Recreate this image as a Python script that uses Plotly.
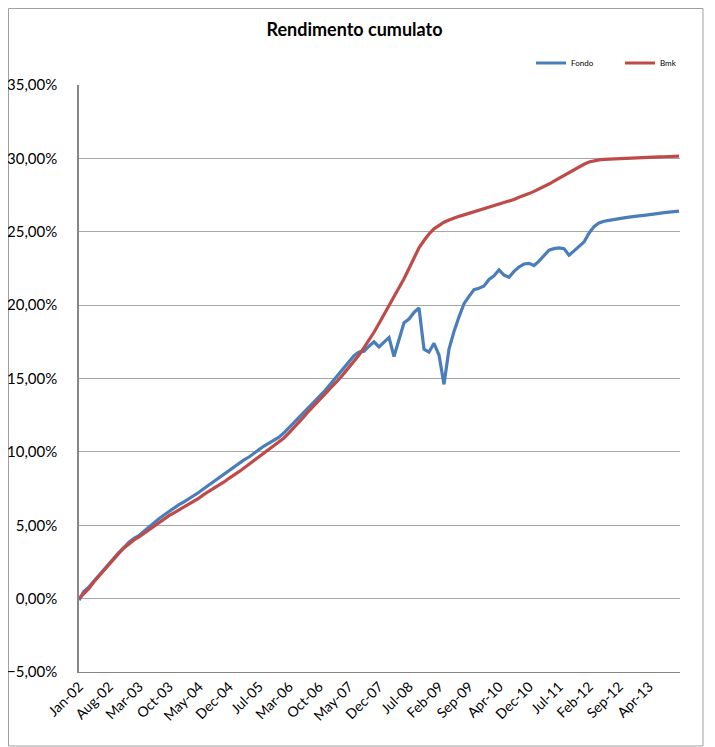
import plotly.graph_objects as go

# Tick labels of the category axis (one every 6 samples)
tick_labels = ["Jan-02", "Aug-02", "Mar-03", "Oct-03", "May-04", "Dec-04", "Jul-05",
               "Mar-06", "Oct-06", "May-07", "Dec-07", "Jul-08", "Feb-09", "Sep-09",
               "Apr-10", "Dec-10", "Jul-11", "Feb-12", "Sep-12", "Apr-13"]
samples_per_label = 6

# Cumulative return (%), Fondo
fondo = [-0.1, 0.5, 0.8, 1.2, 1.6, 2.0, 2.35, 2.75, 3.15, 3.5,
         3.85, 4.1, 4.3, 4.6, 4.9, 5.2, 5.45, 5.7, 5.95, 6.15,
         6.4, 6.6, 6.8, 7.0, 7.25, 7.5, 7.75, 7.95, 8.25, 8.5,
         8.75, 9.0, 9.2, 9.45, 9.65, 9.9, 10.2, 10.4, 10.6, 10.8,
         11.0, 11.3, 11.65, 11.95, 12.35, 12.7, 13.05, 13.4, 13.75, 14.1,
         14.5, 14.9, 15.3, 15.7, 16.1, 16.55, 16.8, 16.85, 17.2, 17.5,
         17.15, 17.5, 17.8, 16.5, 17.7, 18.8, 19.05, 19.5, 19.8, 17.0,
         16.8, 17.4, 16.6, 14.6, 17.0, 18.2, 19.2, 20.1, 20.6, 21.05,
         21.15, 21.3, 21.75, 22.0, 22.4, 22.05, 21.9, 22.3, 22.6, 22.8,
         22.85, 22.7, 23.0, 23.35, 23.75, 23.85, 23.9, 23.85, 23.4, 23.7,
         24.0, 24.3, 24.9, 25.35, 25.6, 25.72, 25.78, 25.85, 25.9, 25.95,
         26.0, 26.02, 26.08, 26.12, 26.18, 26.22, 26.25, 26.3, 26.33, 26.36,
         26.4]

# Cumulative return (%), Bmk
bmk = [0.0, 0.35, 0.7, 1.15, 1.55, 1.95, 2.35, 2.75, 3.1, 3.45,
       3.75, 4.0, 4.2, 4.45, 4.7, 4.95, 5.2, 5.45, 5.65, 5.85,
       6.05, 6.25, 6.45, 6.6, 6.85, 7.1, 7.3, 7.5, 7.75, 7.95,
       8.2, 8.4, 8.65, 8.9, 9.15, 9.4, 9.65, 9.9, 10.15, 10.4,
       10.65, 10.95, 11.3, 11.65, 12.0, 12.4, 12.8, 13.15, 13.5, 13.9,
       14.25, 14.6, 14.95, 15.35, 15.75, 16.15, 16.6, 17.1, 17.6, 18.15,
       18.75, 19.35, 19.95, 20.55, 21.15, 21.8, 22.5, 23.2, 23.9, 24.4,
       24.85, 25.2, 25.45, 25.65, 25.8, 25.95, 26.05, 26.15, 26.25, 26.35,
       26.45, 26.55, 26.65, 26.75, 26.85, 26.95, 27.05, 27.2, 27.35, 27.45,
       27.6, 27.75, 27.9, 28.05, 28.25, 28.45, 28.65, 28.85, 29.05, 29.25,
       29.45, 29.6, 29.75, 29.85, 29.9, 29.93, 29.95, 29.97, 29.98, 30.0,
       30.0, 30.02, 30.03, 30.05, 30.06, 30.08, 30.1, 30.11, 30.12, 30.13,
       30.15]

x = list(range(len(fondo)))
tickvals = [i * samples_per_label for i in range(len(tick_labels))]

FONT = "Lato"
W, H = 715, 747
L, R, T, B = 71, 43, 77, 83
PW, PH = W - L - R, H - T - B

fig = go.Figure()
fig.add_trace(go.Scatter(x=x, y=[v / 100 for v in fondo], mode="lines", name="Fondo",
                         line=dict(color="#4A7EBB", width=3.2)))
fig.add_trace(go.Scatter(x=x, y=[v / 100 for v in bmk], mode="lines", name="Bmk",
                         line=dict(color="#BE4B48", width=3.2)))

fig.update_layout(
    width=W, height=H,
    margin=dict(l=L, r=R, t=T, b=B),
    paper_bgcolor="white", plot_bgcolor="white",
    separators=",.",
    font=dict(family=FONT, color="black"),
    title=dict(text="<b>Rendimento cumulato</b>", x=346.5 / W, xanchor="center",
               y=1 - 22 / H, yanchor="middle", font=dict(size=18, family=FONT)),
    showlegend=True,
    legend=dict(orientation="h", x=(531 - 79) / PW, xanchor="left", y=1 + 22 / PH,
                yanchor="middle", font=dict(size=8, family=FONT), itemwidth=30,
                entrywidth=44, bgcolor="rgba(0,0,0,0)"),
    xaxis=dict(range=[0, 120.2], tickmode="array", tickvals=tickvals, ticktext=tick_labels,
               tickangle=-45, tickfont=dict(size=14, family=FONT), showgrid=False,
               showline=True, linecolor="#868686", linewidth=1, ticks="", zeroline=False,
               automargin=False),
    yaxis=dict(range=[-0.05, 0.35], dtick=0.05, tick0=0, tickformat=".2%",
               tickfont=dict(size=15, family=FONT), showgrid=True, gridcolor="#A6A6A6",
               gridwidth=1, showline=True, linecolor="#868686", linewidth=1.5,
               zeroline=False, ticks="", ticklabelstandoff=17, automargin=False),
    shapes=[
        dict(type="rect", xref="paper", yref="paper",
             x0=(0.5 - L) / PW, x1=(695 - L) / PW,
             y0=(PH - 738 + T) / PH, y1=(PH + T - 0.5) / PH,
             line=dict(color="#A0A0A0", width=1), fillcolor="rgba(0,0,0,0)", layer="below"),
    ],
)

fig.write_html("out.html")
